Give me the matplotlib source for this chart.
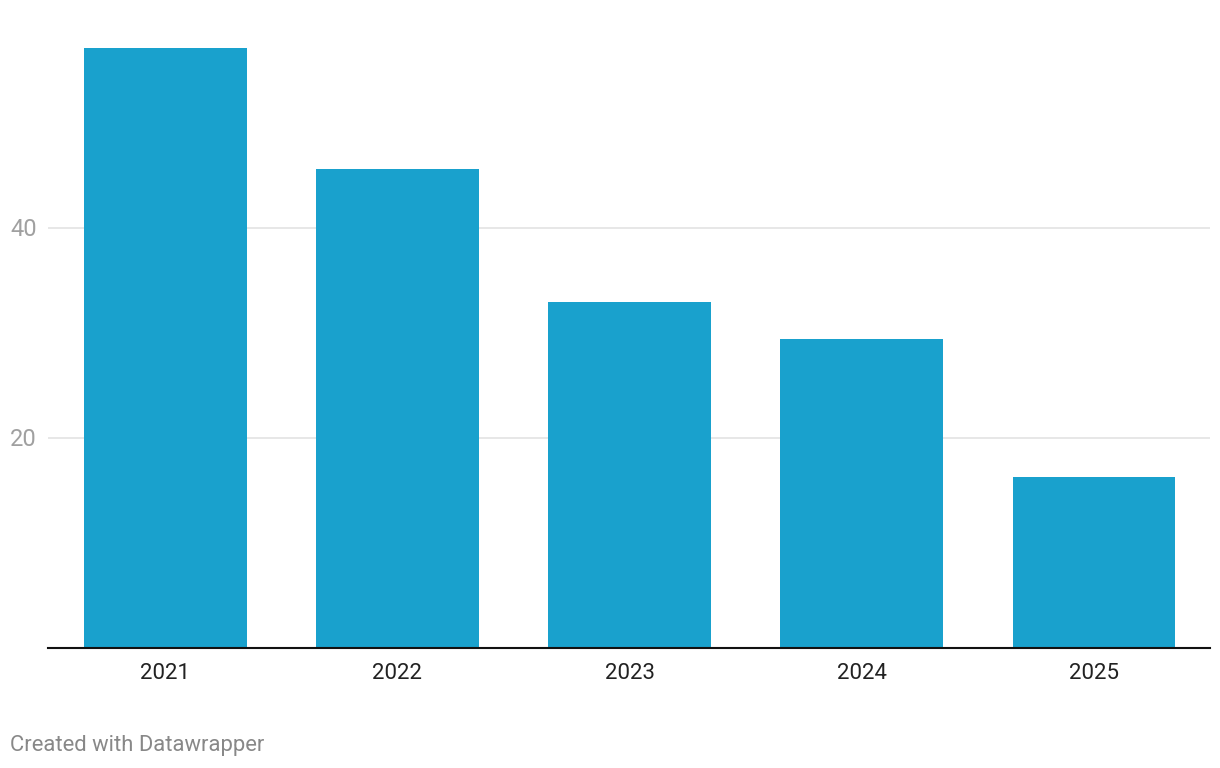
import matplotlib.pyplot as plt
import matplotlib as mpl

mpl.rcParams['font.family'] = ['Roboto', 'DejaVu Sans']

years = ['2021', '2022', '2023', '2024', '2025']
values = [57.1, 45.6, 32.95, 29.4, 16.3]
y_ticks = [20, 40]

fig = plt.figure(figsize=(12.2, 7.68), dpi=100)
ax = fig.add_axes([48/1220, 120/768, 1162/1220, 630/768])

x = range(len(years))
ax.bar(x, values, width=0.70, color='#19a1cd', zorder=3)

ax.set_xlim(-0.505, 4.5)
ax.set_ylim(0, 60)

for t in y_ticks:
    ax.axhline(t, color='#e5e5e5', lw=1.3, zorder=1)
    ax.text(10/1220, ax.transData.transform((0, t))[1] / 768 - 1/768, str(t),
            transform=fig.transFigure, ha='left', va='center',
            fontsize=17, color='#a0a0a0')

for s in ['top', 'right', 'left']:
    ax.spines[s].set_visible(False)
ax.spines['bottom'].set_color('#111111')
ax.spines['bottom'].set_linewidth(1.5)
ax.spines['bottom'].set_zorder(4)

ax.set_yticks([])
ax.set_xticks(list(x))
ax.set_xticklabels(years, fontsize=16, color='#222222')
ax.tick_params(axis='x', length=0, pad=11)

fig.text(10/1220, 1 - 745/768, 'Created with Datawrapper', ha='left', va='center',
         fontsize=15.8, color='#888888')

fig.savefig('out.png', dpi=100)
